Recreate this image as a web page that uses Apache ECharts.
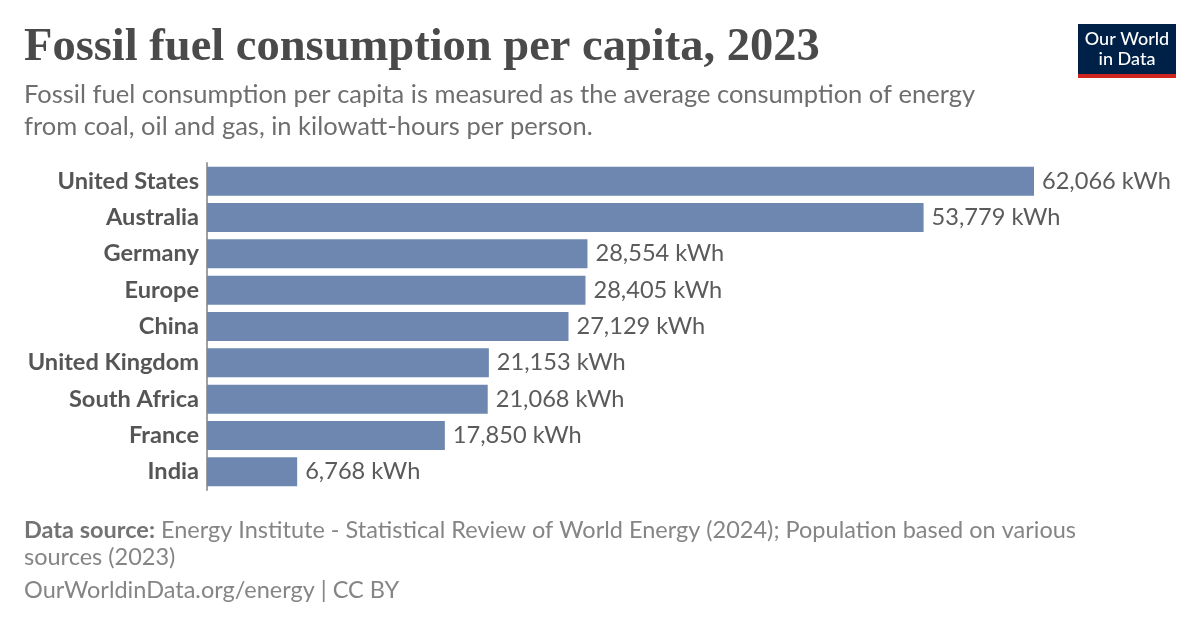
<!DOCTYPE html>
<html><head><meta charset="utf-8">
<script src="https://cdn.jsdelivr.net/npm/echarts@6/dist/echarts.min.js"></script>
<style>html,body{margin:0;padding:0;background:#fff}#c{width:1200px;height:628px}</style>
</head><body><div id="c"></div>
<script>
const categories = ["United States","Australia","Germany","Europe","China","United Kingdom","South Africa","France","India"];
const values = [62066,53779,28554,28405,27129,21153,21068,17850,6768];

const chart = echarts.init(document.getElementById('c'), null, {renderer:'canvas'});
const fmt = v => v.toLocaleString('en-US') + ' kWh';
chart.setOption({
  backgroundColor:'#fff',
  animation:false,
  title:[
    {text:'Fossil fuel consumption per capita, 2023', left:24, top:24, padding:0,
     textStyle:{fontFamily:'Liberation Serif', fontWeight:'bold', fontSize:46.5, lineHeight:48, color:'#4a4a4a'}},
    {text:'Fossil fuel consumption per capita is measured as the average consumption of energy\nfrom coal, oil and gas, in kilowatt-hours per person.', left:24, top:79, padding:0,
     textStyle:{fontFamily:'Lato', fontWeight:'normal', fontSize:25.5, lineHeight:32, color:'#6e6e6e'}},
    {text:'{b|Data source:} Energy Institute - Statistical Review of World Energy (2024); Population based on various\nsources (2023)', left:24, top:517, padding:0,
     textStyle:{fontFamily:'Lato', fontWeight:'normal', fontSize:23.5, lineHeight:27, color:'#858585',
       rich:{b:{fontFamily:'Lato', fontWeight:'bold', fontSize:23.5, color:'#737373'}}}},
    {text:'OurWorldinData.org/energy | CC BY', left:24, top:577, padding:0,
     textStyle:{fontFamily:'Lato', fontWeight:'normal', fontSize:23.5, lineHeight:26, color:'#858585'}}
  ],
  graphic:[
    {type:'rect', shape:{x:1078,y:24,width:98,height:54}, style:{fill:'#002147'}},
    {type:'rect', shape:{x:1078,y:74,width:98,height:4}, style:{fill:'#ce261e'}},
    {type:'text', x:1127, y:29, style:{text:'Our World\nin Data', fill:'#fff', font:'500 18px Lato', textAlign:'center', lineHeight:20}}
  ],
  grid:{left:207, right:166, top:163, bottom:138, containLabel:false},
  xAxis:{type:'value', min:0, max:'dataMax', show:false},
  yAxis:{type:'category', data:categories, inverse:true,
    axisLine:{show:true, lineStyle:{color:'#a0a0a0', width:2}},
    axisTick:{show:false},
    axisLabel:{margin:8, fontFamily:'Lato', fontWeight:'bold', fontSize:23.6, color:'#555'}
  },
  series:[{type:'bar', data:values, barCategoryGap:'20%',
    itemStyle:{color:'#6d87b0'},
    label:{show:true, position:'right', distance:8, formatter:p=>fmt(p.value),
      fontFamily:'Lato', fontSize:23.6, color:'#5b5b5b'}
  }]
});
</script></body></html>
